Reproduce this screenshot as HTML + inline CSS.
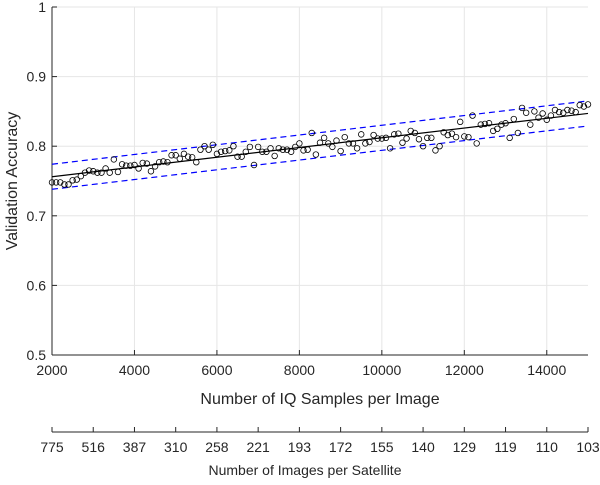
<!DOCTYPE html>
<html><head><meta charset="utf-8"><style>
body{margin:0;background:#fff;font-family:"Liberation Sans",sans-serif}
svg text{font-family:"Liberation Sans",sans-serif;fill:#262626}
</style></head><body>
<svg id="c" width="600" height="480"></svg>
<script>
const xTicks=[2000,4000,6000,8000,10000,12000,14000];
const yTicks=[0.5,0.6,0.7,0.8,0.9,1];
const yTickLabels=["0.5","0.6","0.7","0.8","0.9","1"];
const secondaryLabels=["775","516","387","310","258","221","193","172","155","140","129","119","110","103"];
const xStart=2000, xStep=100;
const accuracy=[.748,.748,.748,.745,.745,.751,.752,.757,.762,.765,.764,.762,.762,.768,.762,.781,.763,.774,.772,.772,.773,.768,.776,.775,.764,.771,.777,.778,.777,.787,.787,.782,.789,.785,.784,.777,.795,.8,.795,.802,.789,.792,.793,.794,.8,.785,.785,.792,.799,.773,.799,.792,.792,.797,.786,.797,.795,.795,.792,.799,.804,.794,.795,.819,.788,.805,
.812,.804,.799,.808,.793,.813,.804,.804,.797,.817,.804,.806,.816,.811,.811,.812,.797,.817,.818,.805,.811,.822,.819,.81,.8,.812,.812,.794,.8,.82,.816,.818,.813,.835,.814,.813,.844,.804,.831,.832,.833,.822,.825,.831,.833,.812,.839,.819,.855,.848,.831,.85,.841,.847,.838,.844,.852,.849,.848,.852,.851,.849,.859,.857,.86];
const bandHalf=0.018;
const L=52,R=588,T=7,B=355;
const sx=v=>L+(v-2000)/(15000-2000)*(R-L);
const sy=v=>B-(v-0.5)/(0.5)*(B-T);
const svg=document.getElementById('c');
const NS='http://www.w3.org/2000/svg';
function mk(tag,at,txt){const e=document.createElementNS(NS,tag);for(const k in at)e.setAttribute(k,at[k]);if(txt!==undefined)e.textContent=txt;svg.appendChild(e);return e;}
// grid
xTicks.forEach(t=>{const g=mk('line',{x1:sx(t),x2:sx(t),y1:T,y2:B,stroke:'#e6e6e6'});

});
yTicks.forEach(t=>{const g=mk('line',{x1:L,x2:R,y1:sy(t),y2:sy(t),stroke:'#e6e6e6'});

});
// axes
let a=mk('line',{x1:L,x2:R,y1:B,y2:B,stroke:'#262626'});


a=mk('line',{x1:L,x2:L,y1:T,y2:B,stroke:'#262626'});


xTicks.forEach(t=>{mk('line',{x1:sx(t),x2:sx(t),y1:B,y2:B-5,stroke:'#262626'});
const e=mk('text',{x:sx(t),y:B+20,'text-anchor':'middle','font-size':14},String(t));

});
yTicks.forEach((t,i)=>{mk('line',{x1:L,x2:L+5,y1:sy(t),y2:sy(t),stroke:'#262626'});
const e=mk('text',{x:L-6,y:sy(t)+5,'text-anchor':'end','font-size':14},yTickLabels[i]);

});
let t=mk('text',{x:(L+R)/2,y:404,'text-anchor':'middle','font-size':16},'Number of IQ Samples per Image');


t=mk('text',{x:0,y:0,'text-anchor':'middle','font-size':16,transform:`translate(17,${(T+B)/2}) rotate(-90)`},'Validation Accuracy');


// fit
const xs=accuracy.map((v,i)=>xStart+i*xStep);
const n=xs.length,mx=xs.reduce((s,v)=>s+v,0)/n,my=accuracy.reduce((s,v)=>s+v,0)/n;
let num=0,den=0;xs.forEach((x,i)=>{num+=(x-mx)*(accuracy[i]-my);den+=(x-mx)**2;});
const slope=num/den,icp=my-slope*mx;
const x0=xs[0],x1=xs[n-1],f=x=>icp+slope*x;
let fl=mk('line',{x1:sx(x0),x2:sx(x1),y1:sy(f(x0)),y2:sy(f(x1)),stroke:'#000','stroke-width':1.2});


[bandHalf,-bandHalf].forEach(d=>{const b=mk('line',{x1:sx(x0),x2:sx(x1),y1:sy(f(x0)+d),y2:sy(f(x1)+d),stroke:'#0000ff','stroke-width':1.2,'stroke-dasharray':'6,4'});

});
accuracy.forEach((v,i)=>{const c=mk('circle',{cx:sx(xs[i]),cy:sy(v),r:2.8,fill:'none',stroke:'#000','stroke-width':0.8});

});
// secondary axis
const Y2=432;
a=mk('line',{x1:L,x2:R,y1:Y2,y2:Y2,stroke:'#262626'});


secondaryLabels.forEach((s,i)=>{const x=L+i*(R-L)/(secondaryLabels.length-1);
mk('line',{x1:x,x2:x,y1:Y2,y2:Y2-5,stroke:'#262626'});
const e=mk('text',{x:x,y:Y2+20,'text-anchor':'middle','font-size':14},s);

});
t=mk('text',{x:(L+R)/2-15,y:475,'text-anchor':'middle','font-size':14},'Number of Images per Satellite');


</script>
</body></html>
